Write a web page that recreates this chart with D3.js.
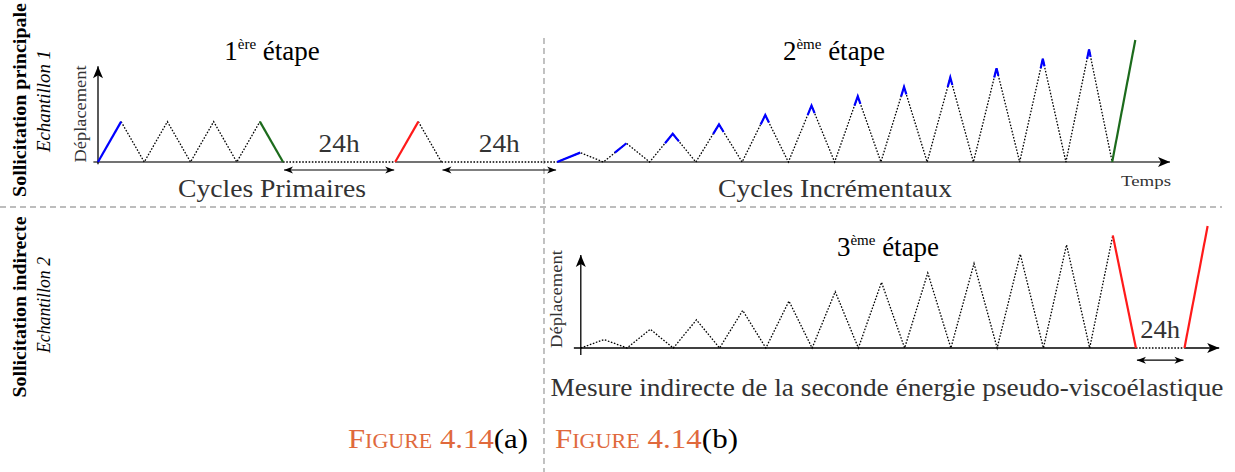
<!DOCTYPE html>
<html>
<head>
<meta charset="utf-8">
<script src="https://cdn.jsdelivr.net/npm/d3@7"></script>
<style>
  body { margin: 0; background: #fff; }
  svg { display: block; }
</style>
</head>
<body>
<div id="chart"></div>
<script>
// ---- data (time in half-cycle units, displacement in arbitrary units) ----
// stage 1 : primary cycles, 24h rest, one reload, 24h rest
const primaryTimes = [0, 1, 2, 3, 4, 5, 6, 7, 8];
const primaryDisp  = [0, 4.3, 0, 4.3, 0, 4.3, 0, 4.3, 0];
const reloadTimes  = [12.85, 13.85, 14.85];
const reloadDisp   = [0, 4.3, 0];
const restTop      = [[8, 12.85], [14.85, 19.85]];
// stage 2 : incremental cycles then final loading
const incrStart = 19.85;
const incrPeaks = [1, 2, 3, 4, 5, 6, 7, 8, 9, 10, 11, 12];
const finalTop  = [[43.85, 0], [44.85, 13]];
// stage 3 : incremental cycles on sample 2, unload, 24h, reload
const indStart     = 0;
const indPeaks     = [0.9, 2, 3, 4, 5, 6, 7, 8, 9, 10, 11, 12];
const unloadBottom = [[23, 12], [24, 0]];
const restBottom   = [24, 26.1];
const reloadBottom = [[26.1, 0], [27.1, 13]];

const width = 1235, height = 472;
const serif = "'Liberation Serif', 'Times New Roman', serif";
const blue = "#0000ff", red = "#ff1a1a", green = "#1c6b1c", orange = "#e0693c";

const svg = d3.select("#chart").append("svg")
    .attr("width", width)
    .attr("height", height);

// arrow markers (stealth like)
const defs = svg.append("defs");
function addMarker(id, len, half, back) {
    defs.append("marker")
        .attr("id", id)
        .attr("viewBox", `${-len - 1} ${-half - 1} ${len + 2} ${2 * half + 2}`)
        .attr("refX", 0).attr("refY", 0)
        .attr("markerUnits", "userSpaceOnUse")
        .attr("markerWidth", len + 2).attr("markerHeight", 2 * half + 2)
        .attr("orient", "auto-start-reverse")
        .append("path")
        .attr("d", `M0,0 L${-len},${-half} L${-len + back},0 L${-len},${half} Z`)
        .attr("fill", "#000");
}
addMarker("axisArrow", 12, 5, 3);
addMarker("smallArrow", 9, 3.5, 2.5);

// scales
const xTop = d3.scaleLinear().domain([0, 46.35]).range([98, 1170]);
const yTop = d3.scaleLinear().domain([0, 13]).range([162, 40]);
const xBot = d3.scaleLinear().domain([0, 27.6]).range([580.8, 1219.2]);
const yBot = d3.scaleLinear().domain([0, 13]).range([348, 226]);

// separators
const sep = svg.append("g").attr("stroke", "#a8a8a8").attr("stroke-width", 1.4)
    .attr("stroke-dasharray", "6,4");
sep.append("line").attr("x1", 0).attr("x2", 1222).attr("y1", 207).attr("y2", 207);
sep.append("line").attr("x1", 544).attr("x2", 544).attr("y1", 38).attr("y2", 472);

function seg(g, x, y, pts, color, w, dotted, marker) {
    const line = d3.line().x(d => x(d[0])).y(d => y(d[1]));
    const p = g.append("path")
        .attr("d", line(pts))
        .attr("fill", "none")
        .attr("stroke", color)
        .attr("stroke-width", w);
    if (dotted) p.attr("stroke-dasharray", "1.6,1.6");
    if (marker) p.attr("marker-end", `url(#${marker})`);
    return p;
}

function cyclePoints(start, peaks) {
    const pts = [[start, 0]];
    peaks.forEach((p, i) => {
        pts.push([start + 2 * i + 1, p]);
        pts.push([start + 2 * i + 2, 0]);
    });
    return pts;
}

// blue overlay: part of each loading above the previous maximum
function drawBlue(g, x, y, start, peaks) {
    peaks.forEach((p, i) => {
        const prev = i === 0 ? 0 : peaks[i - 1];
        const tp = start + 2 * i + 1;
        const t0 = tp - (p - prev) / p;
        const pts = [[t0, prev], [tp, p]];
        if (i >= 2) pts.push([tp + 0.8 / p, p - 0.8]);
        seg(g, x, y, pts, blue, 2.2, false);
    });
}

// ---------------- top panel ----------------
const topG = svg.append("g");
// baseline
seg(topG, xTop, yTop, [[-0.2, 0], [8, 0]], "#444", 1.5, false);
seg(topG, xTop, yTop, [[12.85, 0], [14.85, 0]], "#444", 1.5, false);
seg(topG, xTop, yTop, [[incrStart, 0], [46.35, 0]], "#444", 1.5, false, "axisArrow");
restTop.forEach(r => seg(topG, xTop, yTop, [[r[0], 0], [r[1], 0]], "#000", 1.3, true));
// y axis
seg(topG, xTop, yTop, [[0, -0.25], [0, 10.2]], "#000", 1.3, false, "axisArrow");

// primary cycles
const prim = primaryTimes.map((t, i) => [t, primaryDisp[i]]);
seg(topG, xTop, yTop, prim.slice(1, 8), "#000", 1.3, true);
seg(topG, xTop, yTop, prim.slice(0, 2), blue, 2.2, false);
seg(topG, xTop, yTop, prim.slice(7, 9), green, 2.2, false);
// reload after 24h
const rel = reloadTimes.map((t, i) => [t, reloadDisp[i]]);
seg(topG, xTop, yTop, rel.slice(1), "#000", 1.3, true);
seg(topG, xTop, yTop, rel.slice(0, 2), red, 2.2, false);
// incremental cycles
seg(topG, xTop, yTop, cyclePoints(incrStart, incrPeaks), "#000", 1.3, true);
drawBlue(topG, xTop, yTop, incrStart, incrPeaks);
seg(topG, xTop, yTop, finalTop, green, 2.2, false);

// 24h arrows
restTop.forEach(r => {
    topG.append("line")
        .attr("x1", xTop(r[0]) + 1).attr("x2", xTop(r[1]) - 1)
        .attr("y1", yTop(-0.85)).attr("y2", yTop(-0.85))
        .attr("stroke", "#000").attr("stroke-width", 1.2)
        .attr("marker-start", "url(#smallArrow)")
        .attr("marker-end", "url(#smallArrow)");
    topG.append("text")
        .attr("x", xTop((r[0] + r[1]) / 2)).attr("y", 152)
        .attr("text-anchor", "middle")
        .attr("textLength", 41).attr("lengthAdjust", "spacingAndGlyphs")
        .style("font-family", serif).style("font-size", "26px").style("fill", "#333")
        .text("24h");
});

// ---------------- bottom panel ----------------
const botG = svg.append("g");
seg(botG, xBot, yBot, [[-0.3, 0], [restBottom[0], 0]], "#000", 1.3, false);
seg(botG, xBot, yBot, [[restBottom[0], 0], [restBottom[1], 0]], "#000", 1.3, true);
seg(botG, xBot, yBot, [[restBottom[1], 0], [27.6, 0]], "#000", 1.3, false, "axisArrow");
seg(botG, xBot, yBot, [[0, -0.75], [0, 9.9]], "#000", 1.3, false, "axisArrow");
seg(botG, xBot, yBot, cyclePoints(indStart, indPeaks).slice(0, -1), "#000", 1.3, true);
seg(botG, xBot, yBot, unloadBottom, red, 2.2, false);
seg(botG, xBot, yBot, reloadBottom, red, 2.2, false);
botG.append("line")
    .attr("x1", xBot(restBottom[0]) + 1).attr("x2", xBot(restBottom[1]) - 1)
    .attr("y1", yBot(-1.3)).attr("y2", yBot(-1.3))
    .attr("stroke", "#000").attr("stroke-width", 1.2)
    .attr("marker-start", "url(#smallArrow)")
    .attr("marker-end", "url(#smallArrow)");
botG.append("text")
    .attr("x", xBot((restBottom[0] + restBottom[1]) / 2)).attr("y", 338)
    .attr("text-anchor", "middle")
    .attr("textLength", 40).attr("lengthAdjust", "spacingAndGlyphs")
    .style("font-family", serif).style("font-size", "26px").style("fill", "#333")
    .text("24h");

// ---------------- texts ----------------
function plain(x, y, txt, size, len, opts) {
    opts = opts || {};
    const t = svg.append("text")
        .attr("x", x).attr("y", y)
        .attr("text-anchor", opts.anchor || "middle")
        .style("font-family", serif)
        .style("font-size", size + "px")
        .style("fill", opts.fill || "#333")
        .style("font-weight", opts.bold ? "bold" : "normal")
        .style("font-style", opts.italic ? "italic" : "normal")
        .text(txt);
    if (len) t.attr("textLength", len).attr("lengthAdjust", "spacingAndGlyphs");
    if (opts.rotate) t.attr("transform", `rotate(-90,${x},${y})`);
    return t;
}

function stageTitle(x, y, num, sup) {
    const t = svg.append("text")
        .attr("x", x).attr("y", y)
        .attr("text-anchor", "middle")
        .style("font-family", serif).style("font-size", "27px").style("fill", "#000");
    t.append("tspan").text(num);
    t.append("tspan").attr("dy", -11).style("font-size", "15px").text(sup);
    t.append("tspan").attr("dy", 11).text(" étape");
}
stageTitle(272, 60, "1", "ère");
stageTitle(834, 60, "2", "ème");
stageTitle(888, 256, "3", "ème");

plain(272, 197, "Cycles Primaires", 25, 188);
plain(835, 197, "Cycles Incrémentaux", 25, 234);
plain(1146, 186, "Temps", 15, 50);
plain(887, 396, "Mesure indirecte de la seconde énergie pseudo-viscoélastique", 25, 673);

// vertical labels
plain(86, 114, "Déplacement", 16, 97, { rotate: true });
plain(562, 299, "Déplacement", 16, 98, { rotate: true });
plain(26, 100, "Sollicitation principale", 18, 194, { rotate: true, bold: true, fill: "#000" });
plain(50, 101, "Echantillon 1", 18, 102, { rotate: true, italic: true, fill: "#000" });
plain(26, 307, "Sollicitation indirecte", 18, 181, { rotate: true, bold: true, fill: "#000" });
plain(50, 305, "Echantillon 2", 18, 96, { rotate: true, italic: true, fill: "#000" });

// figure captions
function caption(x, letter, len) {
    const t = svg.append("text")
        .attr("x", x).attr("y", 448)
        .attr("textLength", len).attr("lengthAdjust", "spacingAndGlyphs")
        .style("font-family", serif).style("font-size", "28px");
    t.append("tspan").style("fill", orange).style("font-variant", "small-caps").text("Figure 4.14");
    t.append("tspan").style("fill", "#000").text(`(${letter})`);
}
caption(348, "a", 180);
caption(555, "b", 183);
</script>
</body>
</html>
